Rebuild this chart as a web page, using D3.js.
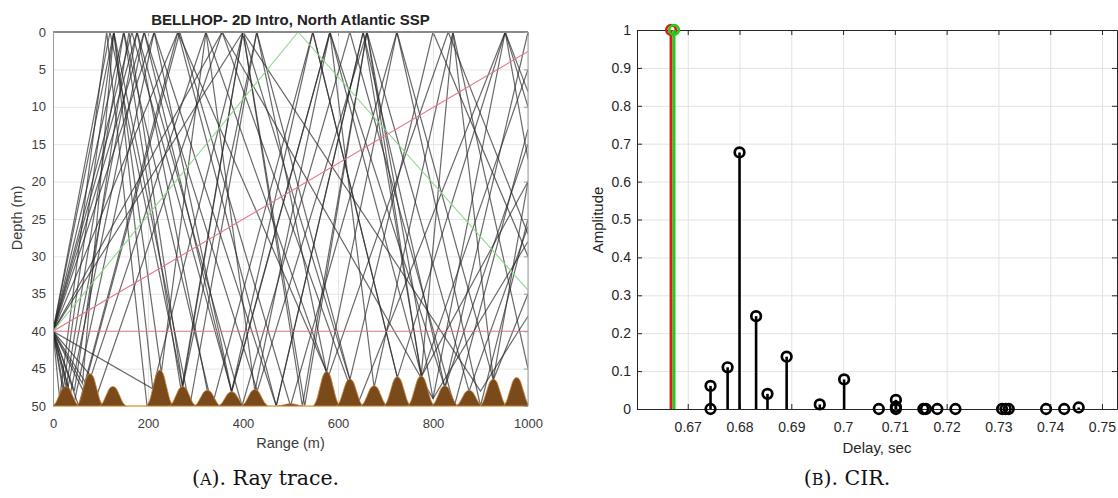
<!DOCTYPE html>
<html>
<head>
<meta charset="utf-8">
<script src="https://cdn.jsdelivr.net/npm/d3@7"></script>
<style>
  body { margin: 0; background: #fff; }
  text { font-family: "Liberation Sans", Arial, sans-serif; }
  .caption { font-family: "DejaVu Serif", serif; }
</style>
</head>
<body>
<div id="chart"></div>
<script>
(function(){

  // ---------- ray trace data (range m, depth m) ----------
  let rangeTicks = [0, 200, 400, 600, 800, 1000];
  let depthTicks = [0, 5, 10, 15, 20, 25, 30, 35, 40, 45, 50];

  // bottom bumps: centre range and peak depth
  let bumpRanges = [27, 78, 126, 225, 273, 325, 376, 425, 500, 576, 625, 676, 725, 775, 825, 876, 927, 976];
  let bumpPeaks = [47.4, 45.7, 47.4, 45.2, 47.4, 47.9, 48.1, 47.8, 49.7, 45.4, 46.4, 47.3, 46.1, 46.0, 47.3, 47.9, 46.4, 46.2];

  let redRays = [
    [[0, 40], [1000, 40]],
    [[0, 40], [1000, 2.6]]
  ];
  let greenRays = [
    [[0, 40], [516, 0], [1000, 34.5]]
  ];
  let blackRays = [
    [[0,40],[128,0],[288,50],[429,0],[576,45.5],[724,0],[900,50],[1000,25]],
    [[0,40],[149,0],[335,50],[547,0],[725,46.2],[952,0],[1000,10]],
    [[0,40],[177,0],[398,50],[625,0],[845,50],[1000,13]],
    [[0,40],[192,0],[430,48],[661,0],[876,48],[1000,26]],
    [[0,40],[213,0],[470,50],[653,0],[776,46],[1000,5]],
    [[0,40],[263,0],[580,46],[832,0],[1000,27]],
    [[0,40],[21,48],[128,0],[228,45.5],[322,0],[425,48],[583,0],[676,47.5],[842,0],[1000,45]],
    [[0,40],[25,48.5],[149,0],[270,48],[400,0],[525,50],[661,0],[800,49],[952,0],[1000,17]],
    [[0,40],[30,48],[177,0],[325,48]],
    [[0,40],[36,48.5],[192,0],[376,48.2],[583,0],[776,46],[1000,20]],
    [[0,40],[43,50],[213,0],[376,48],[547,0],[725,46.2]],
    [[0,40],[54,50],[263,0],[470,50],[653,0],[825,47.5],[1000,0]],
    [[0,40],[64,48],[267,0],[500,50],[724,0],[927,46.5],[1000,35]],
    [[0,40],[80,46],[322,0],[576,45.5]],
    [[0,40],[90,49],[356,0],[640,50],[952,0],[1000,8]],
    [[0,40],[210,47.7],[400,0],[625,46.5],[800,0],[1000,30]],
    [[0,40],[356,0],[800,49],[1000,28]],
    [[0,40],[400,0],[900,48],[1000,38]],
    [[0,40],[62,47],[128,0],[210,47.7]],
    [[0,40],[14,49],[113,0],[198,50]],
    [[0,40],[45,48],[160,0],[273,47.4],[429,0],[625,46.4]],
    [[0,40],[120,0],[273,47.4],[400,0],[530,50],[661,0],[775,46],[842,0],[927,46.4],[1000,20]],
    [[0,40],[166,0],[376,48],[583,0],[825,47.5],[1000,15]]
  ];

  // ---------- CIR data ----------
  let delayTicks = [0.67, 0.68, 0.69, 0.70, 0.71, 0.72, 0.73, 0.74, 0.75];
  let ampTicks = [0, 0.1, 0.2, 0.3, 0.4, 0.5, 0.6, 0.7, 0.8, 0.9, 1];
  let redDelay = [0.66678];
  let redAmp = [1];
  let greenDelay = [0.66735];
  let greenAmp = [1];
  let cirDelay = [0.6744, 0.6744, 0.6777, 0.6800, 0.6832, 0.6854, 0.6891, 0.6955, 0.7002, 0.7069,
    0.7102, 0.7102, 0.7102, 0.7155, 0.7160, 0.7182, 0.7217, 0.7307, 0.7314, 0.7320, 0.7392, 0.7427, 0.7455];
  let cirAmp = [0.061, 0, 0.110, 0.677, 0.245, 0.040, 0.138, 0.012, 0.078, 0,
    0.024, 0.006, 0, 0, 0, 0, 0, 0, 0, 0, 0, 0, 0.004];

  let svg = d3.select('#chart')
  .append('svg')
  .attr('width', 1118)
  .attr('height', 498);

  // ================= left: ray trace =================
  let xL = d3.scaleLinear().domain([0, 1000]).range([53, 528]);
  let yL = d3.scaleLinear().domain([0, 50]).range([32, 406]);

  let left = svg.append('g');

  // grid
  left.append('g')
  .attr('transform', 'translate(0,406)')
  .call(d3.axisBottom(xL).tickValues(rangeTicks).tickSize(-374).tickFormat(''))
  .call(g => g.select('.domain').remove())
  .call(g => g.selectAll('line').attr('stroke', '#e6e6e6'));
  left.append('g')
  .attr('transform', 'translate(53,0)')
  .call(d3.axisLeft(yL).tickValues(depthTicks).tickSize(-475).tickFormat(''))
  .call(g => g.select('.domain').remove())
  .call(g => g.selectAll('line').attr('stroke', '#e6e6e6'));

  left.append('clipPath').attr('id', 'clipL')
  .append('rect').attr('x', 53).attr('y', 32).attr('width', 475).attr('height', 374);

  let rayLine = d3.line().x(d => xL(d[0])).y(d => yL(d[1]));
  let rays = left.append('g').attr('clip-path', 'url(#clipL)');

  rays.selectAll('.black-ray')
  .data(blackRays)
  .enter().append('path')
  .attr('class', 'black-ray')
  .attr('d', rayLine)
  .attr('fill', 'none')
  .attr('stroke', '#2a2a2a')
  .attr('stroke-opacity', 0.7)
  .attr('stroke-width', 1.2);

  rays.selectAll('.green-ray')
  .data(greenRays)
  .enter().append('path')
  .attr('class', 'green-ray')
  .attr('d', rayLine)
  .attr('fill', 'none')
  .attr('stroke', '#8fd88f')
  .attr('stroke-width', 1.1);

  rays.selectAll('.red-ray')
  .data(redRays)
  .enter().append('path')
  .attr('class', 'red-ray')
  .attr('d', rayLine)
  .attr('fill', 'none')
  .attr('stroke', '#e07a86')
  .attr('stroke-width', 1.1);

  // bottom: flat line + brown bumps
  left.append('line')
  .attr('x1', xL(0)).attr('x2', xL(1000))
  .attr('y1', yL(50)).attr('y2', yL(50))
  .attr('stroke', '#e3a55a').attr('stroke-width', 1.5);

  let bumpShape = [[-28, 0], [-21, 0.18], [-14, 0.55], [-7, 0.9], [0, 1], [7, 0.9], [14, 0.55], [21, 0.18], [28, 0]];
  let bumpArea = d3.area()
  .x(d => xL(d[0]))
  .y0(yL(50))
  .y1(d => yL(d[1]))
  .curve(d3.curveMonotoneX);

  left.append('g').attr('clip-path', 'url(#clipL)')
  .selectAll('.bump')
  .data(bumpRanges.map((r, i) => ({r: r, p: bumpPeaks[i]})))
  .enter().append('path')
  .attr('class', 'bump')
  .attr('d', d => bumpArea(bumpShape.map(s => [d.r + s[0], 50 - (50 - d.p) * s[1]])))
  .attr('fill', '#7b4a1b')
  .attr('stroke', '#c98a45')
  .attr('stroke-width', 0.8);

  // box
  left.append('line').attr('x1', 53).attr('x2', 528).attr('y1', 32).attr('y2', 32)
  .attr('stroke', '#8a8a8a').attr('stroke-width', 2.2);
  left.append('line').attr('x1', 528).attr('x2', 528).attr('y1', 32).attr('y2', 406)
  .attr('stroke', '#9a9a9a').attr('stroke-width', 1);

  // axes
  left.append('g')
  .attr('transform', 'translate(0,406)')
  .call(d3.axisBottom(xL).tickValues(rangeTicks).tickSize(0).tickPadding(13).tickFormat(d3.format('d')))
  .call(g => g.select('.domain').remove())
  .call(g => g.selectAll('text').attr('fill', '#3c3c3c').style('font-size', '13px'));
  left.append('g')
  .attr('transform', 'translate(53,0)')
  .call(d3.axisLeft(yL).tickValues(depthTicks).tickSize(0).tickPadding(7))
  .call(g => g.select('.domain').attr('stroke', '#9a9a9a'))
  .call(g => g.selectAll('text').attr('fill', '#3c3c3c').style('font-size', '13px'));
  left.append('g')
  .attr('transform', 'translate(528,0)')
  .call(d3.axisRight(yL).tickValues(depthTicks).tickSize(-4).tickFormat(''))
  .call(g => g.select('.domain').remove())
  .call(g => g.selectAll('line').attr('stroke', '#9a9a9a'));
  left.append('g')
  .attr('transform', 'translate(0,32)')
  .call(d3.axisTop(xL).tickValues(rangeTicks).tickSize(-4).tickFormat(''))
  .call(g => g.select('.domain').remove())
  .call(g => g.selectAll('line').attr('stroke', '#9a9a9a'));

  left.append('text')
  .attr('x', 290.5).attr('y', 25)
  .attr('text-anchor', 'middle')
  .attr('font-weight', 'bold')
  .style('font-size', '15px')
  .attr('fill', '#222')
  .text('BELLHOP- 2D Intro, North Atlantic SSP');

  left.append('text')
  .attr('x', 290.5).attr('y', 448)
  .attr('text-anchor', 'middle')
  .style('font-size', '14.5px')
  .attr('fill', '#3c3c3c')
  .text('Range (m)');

  left.append('text')
  .attr('transform', 'translate(22,218) rotate(-90)')
  .attr('text-anchor', 'middle')
  .style('font-size', '14.5px')
  .attr('fill', '#3c3c3c')
  .text('Depth (m)');

  // ================= right: CIR =================
  let xR = d3.scaleLinear().domain([0.6602, 0.7529]).range([637, 1117]);
  let yR = d3.scaleLinear().domain([0, 1]).range([409, 30]);

  let right = svg.append('g');

  right.append('g')
  .attr('transform', 'translate(0,409)')
  .call(d3.axisBottom(xR).tickValues(delayTicks).tickSize(-379).tickFormat(''))
  .call(g => g.select('.domain').remove())
  .call(g => g.selectAll('line').attr('stroke', '#e3e3e3'));
  right.append('g')
  .attr('transform', 'translate(637,0)')
  .call(d3.axisLeft(yR).tickValues(ampTicks).tickSize(-480).tickFormat(''))
  .call(g => g.select('.domain').remove())
  .call(g => g.selectAll('line').attr('stroke', '#e3e3e3'));

  let fmt = d => String(+d.toFixed(2));

  right.append('g')
  .attr('transform', 'translate(0,409)')
  .call(d3.axisBottom(xR).tickValues(delayTicks).tickSize(-5).tickPadding(13).tickFormat(fmt).tickSizeOuter(0))
  .call(g => g.selectAll('line, .domain').attr('stroke', '#262626'))
  .call(g => g.selectAll('text').attr('fill', '#262626').style('font-size', '14px'));
  right.append('g')
  .attr('transform', 'translate(0,30)')
  .call(d3.axisTop(xR).tickValues(delayTicks).tickSize(-5).tickFormat('').tickSizeOuter(0))
  .call(g => g.selectAll('line, .domain').attr('stroke', '#262626'));
  right.append('g')
  .attr('transform', 'translate(637,0)')
  .call(d3.axisLeft(yR).tickValues(ampTicks).tickSize(-5).tickPadding(6).tickFormat(fmt).tickSizeOuter(0))
  .call(g => g.selectAll('line, .domain').attr('stroke', '#262626'))
  .call(g => g.selectAll('text').attr('fill', '#262626').style('font-size', '14px'));
  right.append('g')
  .attr('transform', 'translate(1117,0)')
  .call(d3.axisRight(yR).tickValues(ampTicks).tickSize(-5).tickFormat('').tickSizeOuter(0))
  .call(g => g.selectAll('line, .domain').attr('stroke', '#262626'));

  function drawStems(cls, delays, amps, color, width){
    let data = delays.map((d, i) => ({t: d, a: amps[i]}));
    right.selectAll('.stem-' + cls)
    .data(data)
    .enter().append('line')
    .attr('class', 'stem-' + cls)
    .attr('x1', d => xR(d.t)).attr('x2', d => xR(d.t))
    .attr('y1', yR(0)).attr('y2', d => yR(d.a))
    .attr('stroke', color).attr('stroke-width', width);
    right.selectAll('.mark-' + cls)
    .data(data)
    .enter().append('circle')
    .attr('class', 'mark-' + cls)
    .attr('cx', d => xR(d.t)).attr('cy', d => yR(d.a))
    .attr('r', 4.8)
    .attr('fill', 'none')
    .attr('stroke', color).attr('stroke-width', 2.7);
  }

  drawStems('cir', cirDelay, cirAmp, '#000', 2.6);
  drawStems('red', redDelay, redAmp, '#e01a1a', 3);
  drawStems('green', greenDelay, greenAmp, '#1ed01e', 3);

  right.append('text')
  .attr('x', 877).attr('y', 453)
  .attr('text-anchor', 'middle')
  .style('font-size', '15px')
  .attr('fill', '#262626')
  .text('Delay, sec');

  right.append('text')
  .attr('transform', 'translate(603,220) rotate(-90)')
  .attr('text-anchor', 'middle')
  .style('font-size', '15px')
  .attr('fill', '#262626')
  .text('Amplitude');

  // ================= captions =================
  function caption(x, letter, rest){
    let t = svg.append('text')
    .attr('class', 'caption')
    .attr('x', x).attr('y', 485)
    .attr('text-anchor', 'middle')
    .style('font-size', '20.5px')
    .attr('fill', '#111');
    t.append('tspan').text('(');
    t.append('tspan').style('font-size', '16px').text(letter);
    t.append('tspan').text(')' + rest);
  }
  caption(265.5, 'A', '. Ray trace.');
  caption(847, 'B', '. CIR.');

})();
</script>
</body>
</html>
